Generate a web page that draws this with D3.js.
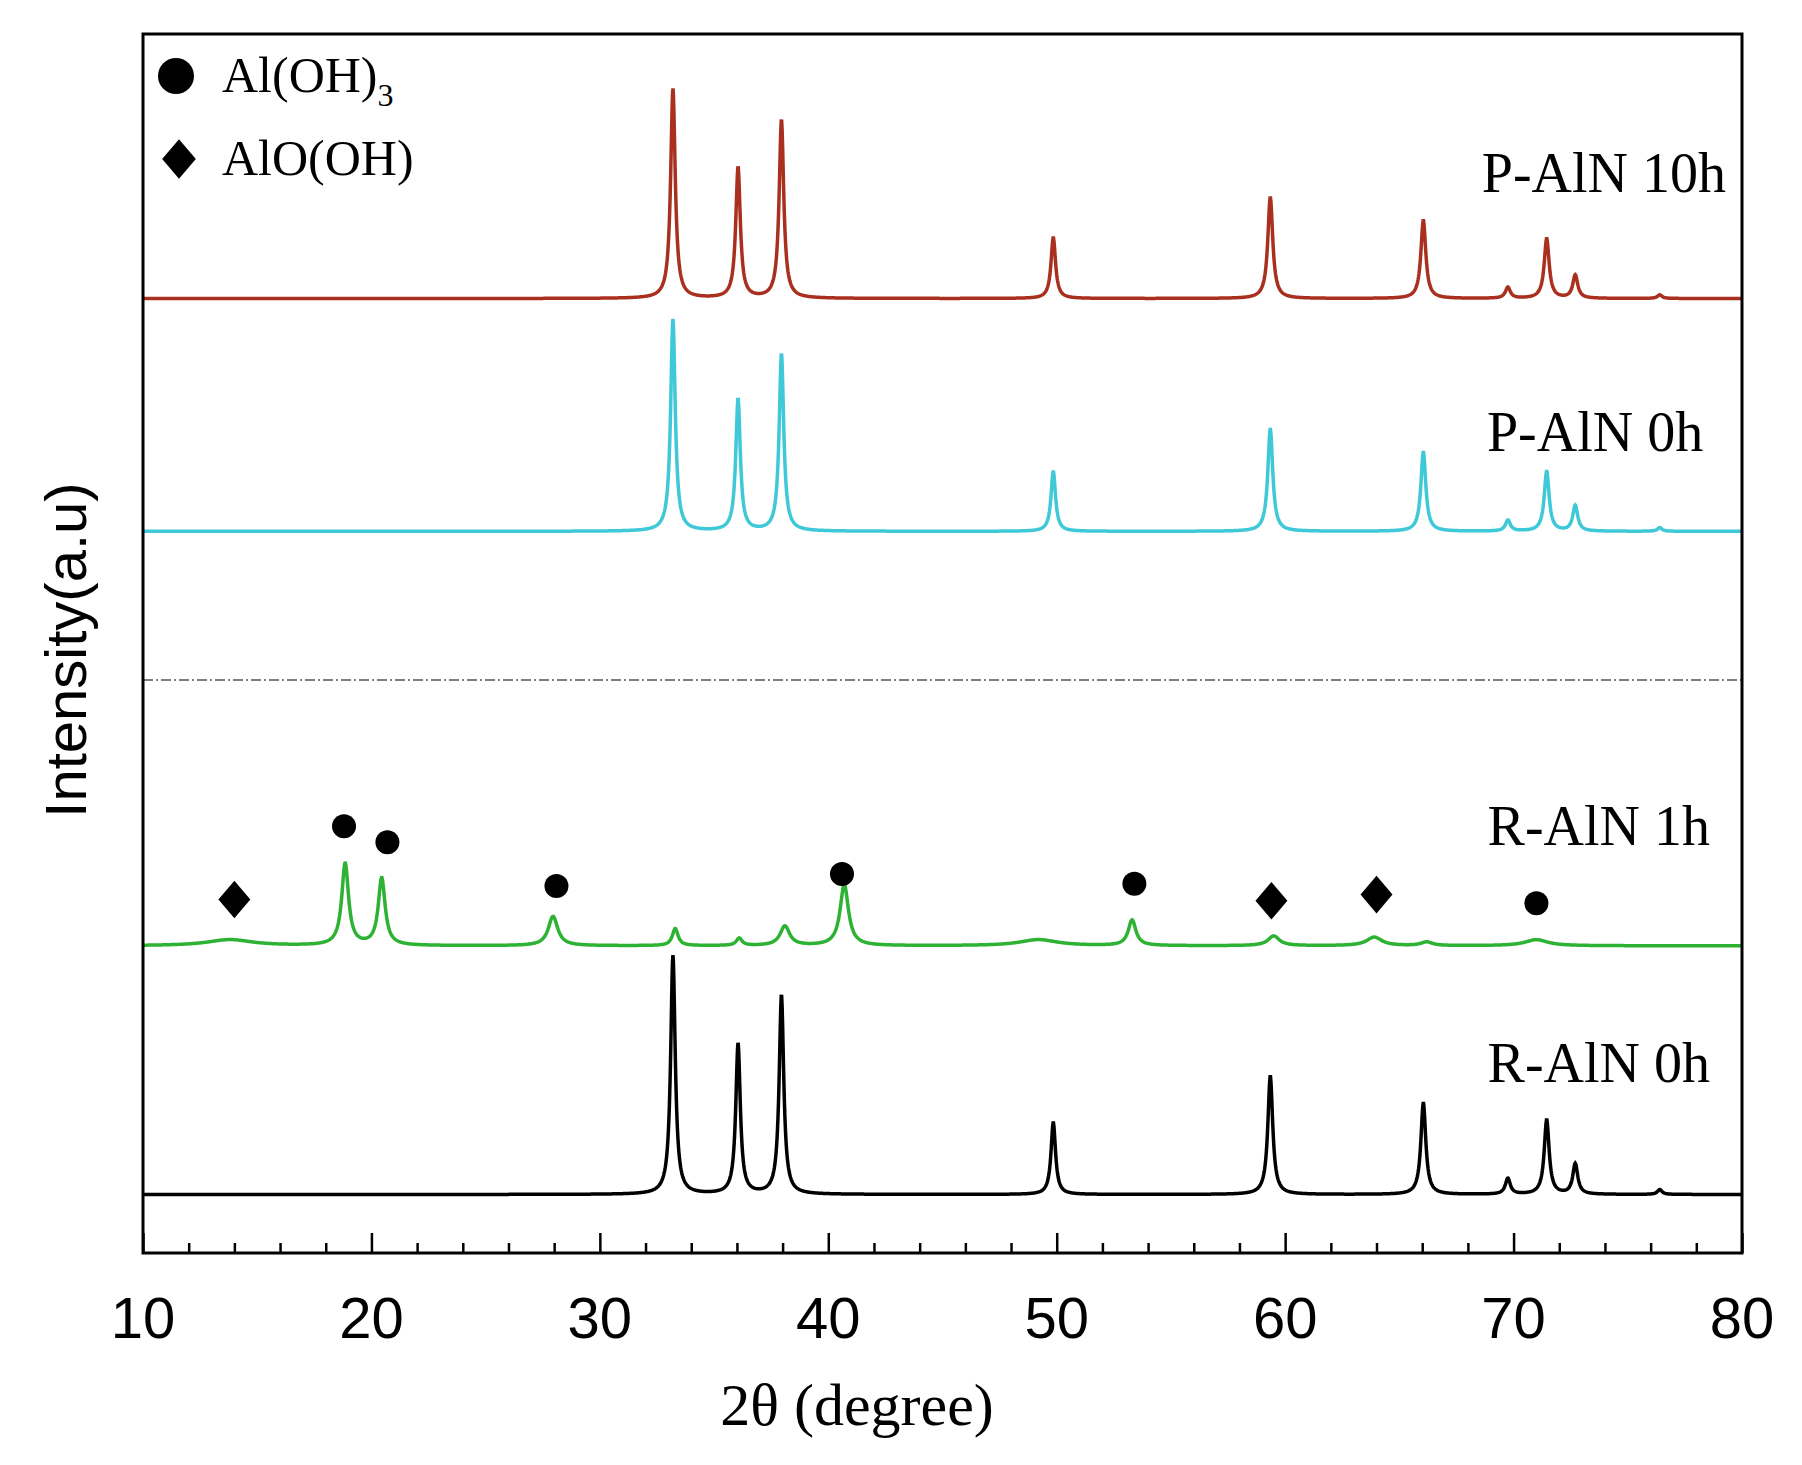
<!DOCTYPE html>
<html>
<head>
<meta charset="utf-8">
<script src="https://cdn.jsdelivr.net/npm/d3@7"></script>
<style>
  body { margin: 0; background: #fff; }
  text { fill: #000; }
</style>
</head>
<body>
<svg id="chart" width="1802" height="1465"></svg>
<script>
(function () {
  'use strict';

  // peaks: [2theta, height, half width], heights in intensity units
  var rAlN0hPeaks = [[33.2, 196, 0.12], [36.05, 123, 0.12], [37.95, 163, 0.12], [49.85, 59, 0.12],
    [59.35, 97, 0.13], [66.05, 75, 0.13], [69.75, 13, 0.13], [71.45, 61, 0.13], [72.7, 25, 0.13], [76.4, 4, 0.12]];
  var rAlN1hPeaks = [[13.8, 5, 1.2], [18.85, 67, 0.18], [20.45, 55, 0.18], [27.95, 24, 0.25], [33.3, 14, 0.15],
    [36.1, 6, 0.15], [38.1, 16, 0.25], [40.7, 50, 0.22], [49.2, 5, 1.0], [53.3, 21, 0.2], [59.5, 8, 0.3],
    [63.9, 7, 0.4], [66.2, 3, 0.3], [71, 5, 0.6]];
  var pAlN0hPeaks = [[33.2, 174, 0.12], [36.05, 108, 0.12], [37.95, 145, 0.12], [49.85, 49, 0.12],
    [59.35, 84, 0.13], [66.05, 65, 0.13], [69.75, 9, 0.13], [71.45, 49, 0.13], [72.7, 21, 0.13], [76.4, 3, 0.12]];
  var pAlN10hPeaks = [[33.2, 172, 0.12], [36.05, 107, 0.12], [37.95, 146, 0.12], [49.85, 50, 0.12],
    [59.35, 83, 0.13], [66.05, 64, 0.13], [69.75, 9, 0.13], [71.45, 49, 0.13], [72.7, 19, 0.13], [76.4, 3, 0.12]];

  var series = [
    { name: 'R-AlN 0h', base: 48, peaks: rAlN0hPeaks, color: '#000000', labelX: 78.6, labelY: 140 },
    { name: 'R-AlN 1h', base: 252, peaks: rAlN1hPeaks, color: '#2db234', labelX: 78.6, labelY: 335 },
    { name: 'P-AlN 0h', base: 592, peaks: pAlN0hPeaks, color: '#3fc8d8', labelX: 78.3, labelY: 658 },
    { name: 'P-AlN 10h', base: 783, peaks: pAlN10hPeaks, color: '#a9301f', labelX: 79.3, labelY: 870 }
  ];

  var circleMarks = [[18.8, 350], [20.7, 337], [28.1, 301], [40.6, 311], [53.4, 303], [71.0, 287]];
  var diamondMarks = [[14.0, 290], [59.4, 289], [64.0, 294]];
  var dividerLevel = 470;
  var xTicks = [10, 20, 30, 40, 50, 60, 70, 80];

  var left = 143, right = 1742, top = 34, bottom = 1253;
  var svg = d3.select('#chart');
  var x = d3.scaleLinear().domain([10, 80]).range([left, right]);
  var y = d3.scaleLinear().domain([0, 1000]).range([bottom, top]);

  var grid = d3.range(10, 80.001, 0.02);
  series.forEach(function (s) {
    var pts = grid.map(function (t) {
      var v = 0;
      s.peaks.forEach(function (p) {
        var d = (t - p[0]) / p[2];
        v += p[1] / (1 + d * d);
      });
      return [t, s.base + v];
    });
    svg.append('path')
      .datum(pts)
      .attr('fill', 'none')
      .attr('stroke', s.color)
      .attr('stroke-width', 3.5)
      .attr('d', d3.line().x(function (d) { return x(d[0]); }).y(function (d) { return y(d[1]); }));
    svg.append('text')
      .attr('x', x(s.labelX)).attr('y', y(s.labelY))
      .attr('text-anchor', 'end')
      .style('font-family', 'Liberation Serif, serif').style('font-size', '56px')
      .text(s.name);
  });

  svg.append('line')
    .attr('x1', left).attr('x2', right)
    .attr('y1', y(dividerLevel)).attr('y2', y(dividerLevel))
    .attr('stroke', '#555').attr('stroke-width', 1.5).attr('stroke-dasharray', '10,3,2,3');

  svg.selectAll('circle.mark').data(circleMarks).enter().append('circle')
    .attr('cx', function (d) { return x(d[0]); }).attr('cy', function (d) { return y(d[1]); })
    .attr('r', 12).attr('fill', '#000');
  var diamond = d3.symbol().type(d3.symbolDiamond2).size(900);
  svg.selectAll('path.mark').data(diamondMarks).enter().append('path')
    .attr('d', diamond)
    .attr('transform', function (d) { return 'translate(' + x(d[0]) + ',' + y(d[1]) + ') scale(0.85,1)'; })
    .attr('fill', '#000');

  // legend
  svg.append('circle').attr('cx', 176).attr('cy', 76).attr('r', 18).attr('fill', '#000');
  svg.append('path').attr('d', d3.symbol().type(d3.symbolDiamond2).size(1000)())
    .attr('transform', 'translate(179,159) scale(0.85,1)').attr('fill', '#000');
  var lg = svg.append('text').attr('x', 222).attr('y', 92)
    .style('font-family', 'Liberation Serif, serif').style('font-size', '50px');
  lg.append('tspan').text('Al(OH)');
  lg.append('tspan').attr('dy', 14).style('font-size', '32px').text('3');
  svg.append('text').attr('x', 222).attr('y', 175)
    .style('font-family', 'Liberation Serif, serif').style('font-size', '50px').text('AlO(OH)');

  // frame
  svg.append('rect').attr('x', left).attr('y', top).attr('width', right - left).attr('height', bottom - top)
    .attr('fill', 'none').attr('stroke', '#000').attr('stroke-width', 3);

  var axis = svg.append('g').attr('transform', 'translate(0,' + bottom + ')')
    .call(d3.axisBottom(x).tickValues(d3.range(10, 80.1, 2)).tickSize(-10).tickFormat(''));
  axis.selectAll('.tick').filter(function (d) { return d % 10 === 0; })
    .select('line').attr('y2', -20);
  axis.selectAll('line').attr('stroke-width', 2.5);
  axis.select('.domain').remove();

  svg.selectAll('text.xt').data(xTicks).enter().append('text')
    .attr('x', function (d) { return x(d); }).attr('y', 1338)
    .attr('text-anchor', 'middle')
    .style('font-family', 'Liberation Sans, Arial, sans-serif').style('font-size', '58px')
    .text(function (d) { return d; });

  svg.append('text').attr('x', 857).attr('y', 1425).attr('text-anchor', 'middle')
    .style('font-family', 'Liberation Serif, serif').style('font-size', '60px')
    .text('2θ (degree)');
  svg.append('text').attr('transform', 'translate(86,650) rotate(-90)').attr('text-anchor', 'middle')
    .style('font-family', 'Liberation Sans, Arial, sans-serif').style('font-size', '58px')
    .text('Intensity(a.u)');
})();
</script>
</body>
</html>
